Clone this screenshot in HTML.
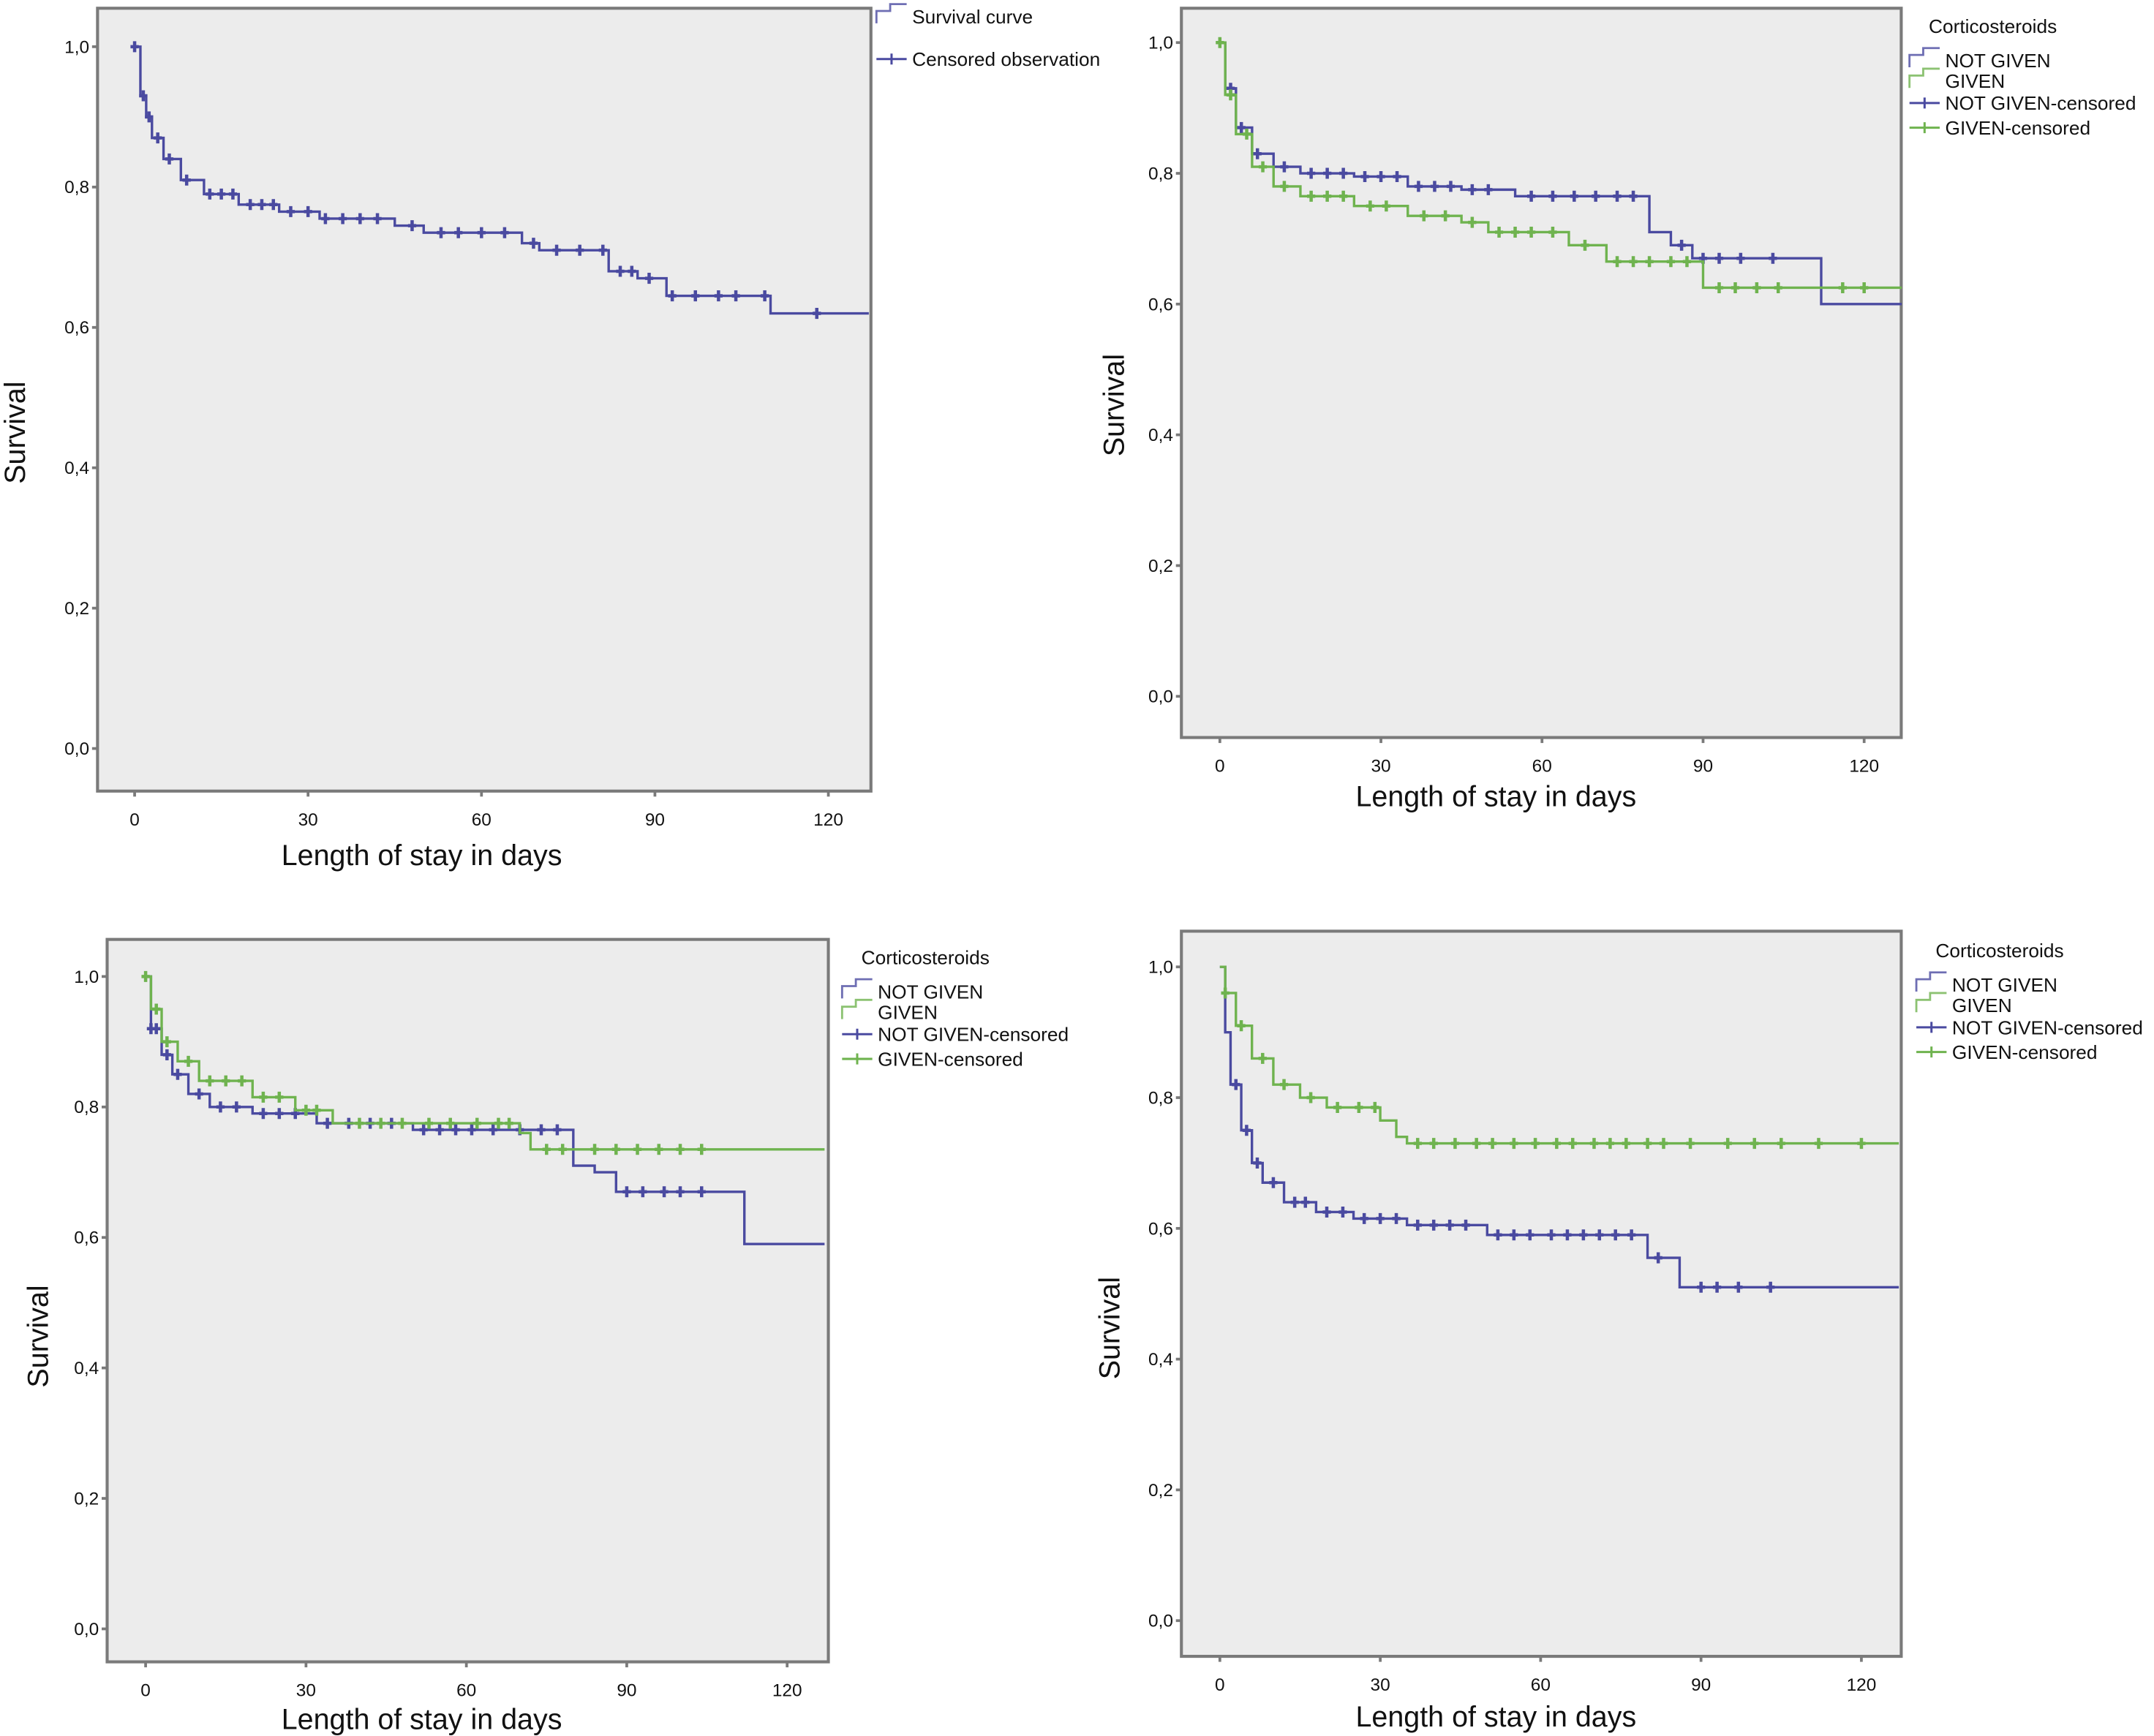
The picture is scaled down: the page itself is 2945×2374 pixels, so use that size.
<!DOCTYPE html>
<html><head><meta charset="utf-8">
<style>
html,body{margin:0;padding:0;background:#fff;}
svg{display:block;}
text{font-family:"Liberation Sans",Arial,sans-serif;fill:#111;}
</style></head>
<body>
<svg id="fig" width="2945" height="2374" viewBox="0 0 1568 1264" preserveAspectRatio="none" xmlns="http://www.w3.org/2000/svg"></svg>
<script>
// ---- data (days, survival) ----
const xTicks = [0, 30, 60, 90, 120];
const yTicks = [0, 0.2, 0.4, 0.6, 0.8, 1.0];
const yTickLabels = ["0,0", "0,2", "0,4", "0,6", "0,8", "1,0"];

const p1Times = [0, 1, 2, 3, 5, 8, 12, 18, 25, 32, 45, 50, 67, 70, 82, 87, 92, 110];
const p1Surv  = [1, 0.93, 0.9, 0.87, 0.84, 0.81, 0.79, 0.775, 0.765, 0.755, 0.745, 0.735, 0.72, 0.71, 0.68, 0.67, 0.645, 0.62];
const p1Cens  = [0, 1.5, 2.5, 4, 6, 9, 13, 15, 17, 20, 22, 24, 27, 30, 33, 36, 39, 42, 48, 53, 56, 60, 64, 69, 73, 77, 81, 84, 86, 89, 93, 97, 101, 104, 109, 118];

const p2NgTimes = [0, 1, 3, 6, 10, 15, 25, 35, 45, 55, 80, 84, 88, 112];
const p2NgSurv  = [1, 0.93, 0.87, 0.83, 0.81, 0.80, 0.795, 0.78, 0.775, 0.765, 0.71, 0.69, 0.67, 0.60];
const p2NgCens  = [2, 4, 7, 12, 17, 20, 23, 27, 30, 33, 37, 40, 43, 47, 50, 58, 62, 66, 70, 74, 77, 86, 90, 93, 97, 103];
const p2GTimes  = [0, 1, 3, 6, 10, 15, 25, 35, 45, 50, 65, 72, 90];
const p2GSurv   = [1, 0.92, 0.86, 0.81, 0.78, 0.765, 0.75, 0.735, 0.725, 0.71, 0.69, 0.665, 0.625];
const p2GCens   = [0, 2, 5, 8, 12, 17, 20, 23, 28, 31, 38, 42, 47, 52, 55, 58, 62, 68, 74, 77, 80, 84, 87, 93, 96, 100, 104, 116, 120];

const p3NgTimes = [0, 1, 3, 5, 8, 12, 20, 32, 50, 80, 84, 88, 112];
const p3NgSurv  = [1, 0.92, 0.88, 0.85, 0.82, 0.80, 0.79, 0.775, 0.765, 0.71, 0.70, 0.67, 0.59];
const p3NgCens  = [1, 2, 4, 6, 10, 14, 17, 22, 25, 28, 34, 38, 42, 46, 52, 55, 58, 61, 65, 70, 74, 77, 90, 93, 97, 100, 104];
const p3GTimes  = [0, 1, 3, 6, 10, 20, 28, 35, 70, 72];
const p3GSurv   = [1, 0.95, 0.90, 0.87, 0.84, 0.815, 0.795, 0.775, 0.76, 0.735];
const p3GCens   = [0, 2, 4, 8, 12, 15, 18, 22, 25, 30, 32, 40, 44, 48, 53, 57, 62, 66, 68, 75, 78, 84, 88, 92, 96, 100, 104];

const p4NgTimes = [0, 1, 2, 4, 6, 8, 12, 18, 25, 35, 50, 80, 86];
const p4NgSurv  = [1, 0.90, 0.82, 0.75, 0.70, 0.67, 0.64, 0.625, 0.615, 0.605, 0.59, 0.555, 0.51];
const p4NgCens  = [3, 5, 7, 10, 14, 16, 20, 23, 27, 30, 33, 37, 40, 43, 46, 52, 55, 58, 62, 65, 68, 71, 74, 77, 82, 90, 93, 97, 103];
const p4GTimes  = [0, 1, 3, 6, 10, 15, 20, 30, 33, 35];
const p4GSurv   = [1, 0.96, 0.91, 0.86, 0.82, 0.80, 0.785, 0.765, 0.74, 0.73];
const p4GCens   = [1, 4, 8, 12, 17, 22, 26, 29, 37, 40, 44, 48, 51, 55, 59, 63, 66, 70, 73, 76, 80, 83, 88, 95, 100, 105, 112, 120];

const BLUE = "#4a4aa0", GREEN = "#6fb34f";
const svg = document.getElementById('fig');
const NS = "http://www.w3.org/2000/svg";
function mk(tag, attrs, parent){const e=document.createElementNS(NS,tag);for(const k in attrs)e.setAttribute(k,attrs[k]);(parent||svg).appendChild(e);return e;}
function txt(s, attrs, parent){const e=mk('text',attrs,parent);e.textContent=s;return e;}

function stepAt(times, surv, t){let v=surv[0];for(let i=0;i<times.length;i++){if(times[i]<=t)v=surv[i];}return v;}

function panel(cfg){
  const g = mk('g',{});
  
  
  const X = d => cfg.x0 + (cfg.x120 - cfg.x0) * d / 120;
  const Y = v => cfg.y0 - (cfg.y0 - cfg.y1) * v;
  const fr = mk('rect',{x:cfg.fx,y:cfg.fy,width:cfg.fw,height:cfg.fh,fill:"#ececec",stroke:"#7a7a7a","stroke-width":2.2},g);
  
  
  yTicks.forEach((v,i)=>{
    mk('line',{x1:cfg.fx-4,x2:cfg.fx,y1:Y(v),y2:Y(v),stroke:"#7a7a7a","stroke-width":2},g);
    const t=txt(yTickLabels[i],{x:cfg.fx-6,y:Y(v)+4.5,"font-size":13,"text-anchor":"end"},g);
    
    
  });
  xTicks.forEach(d=>{
    mk('line',{x1:X(d),x2:X(d),y1:cfg.fy+cfg.fh,y2:cfg.fy+cfg.fh+4,stroke:"#7a7a7a","stroke-width":2},g);
    const t=txt(String(d),{x:X(d),y:cfg.fy+cfg.fh+25,"font-size":13,"text-anchor":"middle"},g);
    
    
  });
  const xt=txt("Length of stay in days",{x:cfg.xtx,y:cfg.xty,"font-size":21,"text-anchor":"middle"},g);
  
  
  const yt=txt("Survival",{x:0,y:0,"font-size":21,"text-anchor":"middle",transform:`translate(${cfg.ytx},${cfg.yty}) rotate(-90)`},g);
  
  
  cfg.series.forEach(s=>{
    let d=`M${X(s.t[0])},${Y(s.s[0])}`;
    for(let i=1;i<s.t.length;i++){d+=` H${X(s.t[i])} V${Y(s.s[i])}`;}
    d+=` H${X(127)}`;
    const p=mk('path',{d:d,fill:"none",stroke:s.color,"stroke-width":1.8},g);
    
    
    s.c.forEach(t=>{
      const cx=X(t), cy=Y(stepAt(s.t,s.s,t));
      const m=mk('path',{d:`M${cx},${cy-4}V${cy+4}M${cx-3},${cy}H${cx+3}`,stroke:s.color,"stroke-width":2.4},g);
      
      
    });
  });
  if(cfg.legendTitle){
    const lt=txt("Corticosteroids",{x:cfg.lx-12,y:cfg.ly[0],"font-size":14},g);
    
    
  }
  cfg.legend.forEach((L,i)=>{
    const y=cfg.ly[i+1];
    const sx=cfg.lx-26;
    if(L.censor) mk('path',{d:`M${sx},${y-5}H${sx+22}M${sx+11},${y-9}V${y-1}`,stroke:L.color,"stroke-width":1.6,fill:"none"},g);
    else mk('path',{d:`M${sx},${y}V${y-9}H${sx+10}V${y-14}H${sx+22}`,stroke:L.color,"stroke-width":1.5,fill:"none",opacity:0.8},g);
    const t=txt(L.label,{x:cfg.lx,y:y,"font-size":14},g);
    
    
  });
}

const legend4=[{label:"NOT GIVEN",color:BLUE},{label:"GIVEN",color:GREEN},{label:"NOT GIVEN-censored",color:BLUE,censor:true},{label:"GIVEN-censored",color:GREEN,censor:true}];

panel({name:'overall-survival-chart',fx:71,fy:6,fw:563,fh:570,x0:98,x120:603,y0:545,y1:34,xtx:307,xty:630,ytx:18,yty:315,
  series:[{name:'overall',t:p1Times,s:p1Surv,c:p1Cens,color:BLUE}],
  legendTitle:false,lx:664,ly:[0,17,48],
  legend:[{label:"Survival curve",color:BLUE},{label:"Censored observation",color:BLUE,censor:true}]});

panel({name:'corticosteroids-chart-a',fx:860,fy:6,fw:524,fh:531,x0:888,x120:1357,y0:507,y1:31,xtx:1089,xty:587,ytx:818,yty:295,
  series:[{name:'not-given',t:p2NgTimes,s:p2NgSurv,c:p2NgCens,color:BLUE},{name:'given',t:p2GTimes,s:p2GSurv,c:p2GCens,color:GREEN}],
  legendTitle:true,lx:1416,ly:[24,49,64,80,98],legend:legend4});

panel({name:'corticosteroids-chart-b',fx:78,fy:684,fw:525,fh:526,x0:106,x120:573,y0:1186,y1:711,xtx:307,xty:1259,ytx:35,yty:973,
  series:[{name:'not-given',t:p3NgTimes,s:p3NgSurv,c:p3NgCens,color:BLUE},{name:'given',t:p3GTimes,s:p3GSurv,c:p3GCens,color:GREEN}],
  legendTitle:true,lx:639,ly:[702,727,742,758,776],legend:legend4});

panel({name:'corticosteroids-chart-c',fx:860,fy:678,fw:524,fh:528,x0:888,x120:1355,y0:1180,y1:704,xtx:1089,xty:1257,ytx:815,yty:967,
  series:[{name:'not-given',t:p4NgTimes,s:p4NgSurv,c:p4NgCens,color:BLUE},{name:'given',t:p4GTimes,s:p4GSurv,c:p4GCens,color:GREEN}],
  legendTitle:true,lx:1421,ly:[697,722,737,753,771],legend:legend4});
</script>
</body></html>
